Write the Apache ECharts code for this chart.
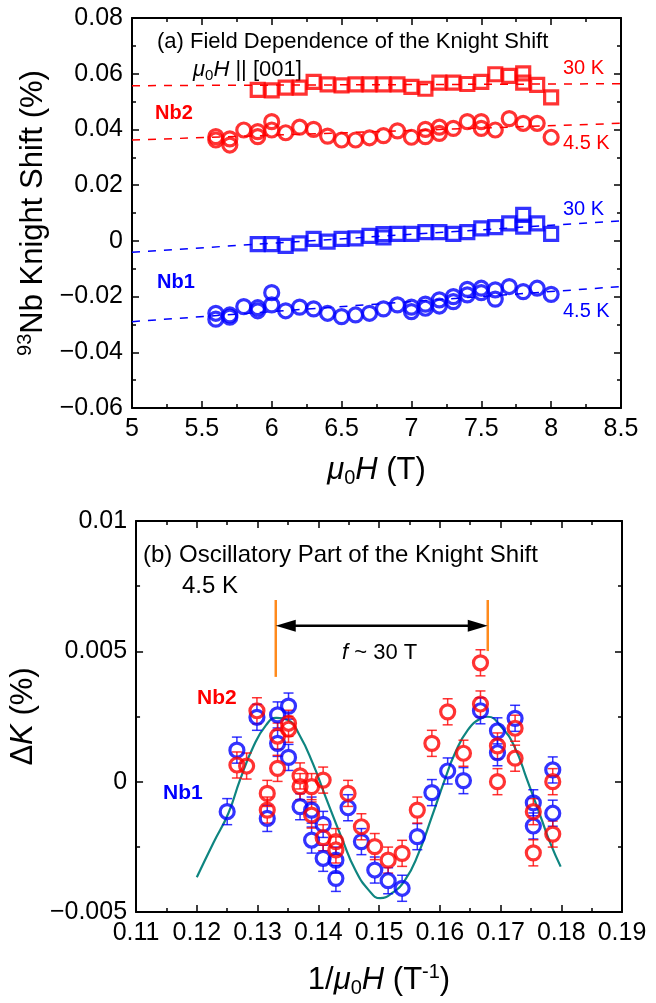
<!DOCTYPE html>
<html>
<head>
<meta charset="utf-8">
<script src="https://cdn.jsdelivr.net/npm/echarts@6/dist/echarts.min.js"></script>
<style>
html, body { margin: 0; padding: 0; background: #fff; }
#chart { width: 656px; height: 1003px; }
</style>
</head>
<body>
<div id="chart"></div>
<script>
var fontFam = '"Liberation Sans", Arial, sans-serif'
var red = '#ff0000'
var blue = '#0000ff'

// (a) 93Nb Knight Shift (%) vs field mu0H (T)
var nb2Sq30K = [[5.9, 0.0542], [6.0, 0.0540], [6.1, 0.0550], [6.2, 0.0550], [6.3, 0.0571], [6.4, 0.0562], [6.5, 0.0558],
  [6.6, 0.0562], [6.7, 0.0562], [6.8, 0.0562], [6.9, 0.0562], [7.0, 0.0553], [7.1, 0.0546], [7.2, 0.0568], [7.3, 0.0568],
  [7.4, 0.0563], [7.5, 0.0571], [7.6, 0.0598], [7.7, 0.0592], [7.8, 0.0601], [7.8, 0.0568], [7.9, 0.0560], [8.0, 0.0515]]
var nb2Circ45K = [[5.6, 0.0374], [5.6, 0.0362], [5.7, 0.0366], [5.7, 0.0344], [5.8, 0.0398], [5.9, 0.0392], [5.9, 0.0374],
  [6.0, 0.0428], [6.0, 0.0398], [6.1, 0.0388], [6.2, 0.0408], [6.3, 0.0400], [6.4, 0.0376], [6.5, 0.0362], [6.6, 0.0362],
  [6.7, 0.0370], [6.8, 0.0378], [6.9, 0.0395], [7.0, 0.0372], [7.1, 0.0400], [7.1, 0.0374], [7.2, 0.0408], [7.2, 0.0386],
  [7.3, 0.0404], [7.4, 0.0428], [7.5, 0.0428], [7.5, 0.0404], [7.6, 0.0398], [7.7, 0.0439], [7.8, 0.0422], [7.9, 0.0422],
  [8.0, 0.0372]]
var nb1Sq30K = [[5.9, -0.0012], [6.0, -0.0012], [6.1, -0.0018], [6.2, -0.0009], [6.3, 0.0007], [6.4, -0.0003], [6.5, 0.0007],
  [6.6, 0.0009], [6.7, 0.0018], [6.8, 0.0024], [6.8, 0.0012], [6.9, 0.0025], [7.0, 0.0025], [7.1, 0.0031], [7.2, 0.0031],
  [7.3, 0.0025], [7.4, 0.0031], [7.5, 0.0045], [7.6, 0.0049], [7.7, 0.0063], [7.8, 0.0093], [7.8, 0.0051], [7.9, 0.0063],
  [8.0, 0.0025]]
var nb1Circ45K = [[5.6, -0.0260], [5.6, -0.0281], [5.7, -0.0266], [5.7, -0.0274], [5.8, -0.0236], [5.9, -0.0240], [5.9, -0.0251],
  [6.0, -0.0186], [6.0, -0.0230], [6.1, -0.0251], [6.2, -0.0238], [6.3, -0.0244], [6.4, -0.0260], [6.5, -0.0272], [6.6, -0.0266],
  [6.7, -0.0260], [6.8, -0.0244], [6.9, -0.0230], [7.0, -0.0238], [7.0, -0.0254], [7.1, -0.0227], [7.1, -0.0242], [7.2, -0.0212],
  [7.2, -0.0234], [7.3, -0.0200], [7.3, -0.0218], [7.4, -0.0174], [7.4, -0.0194], [7.5, -0.0170], [7.5, -0.0186], [7.6, -0.0176],
  [7.6, -0.0209], [7.7, -0.0164], [7.8, -0.0182], [7.9, -0.0170], [8.0, -0.0192]]
// dashed linear fits
var nb2Fit30K = [[5, 0.0557], [8.5, 0.0564]]
var nb2Fit45K = [[5, 0.0362], [8.5, 0.0422]]
var nb1Fit30K = [[5, -0.0041], [8.5, 0.0072]]
var nb1Fit45K = [[5, -0.0290], [8.5, -0.0164]]

// (b) oscillatory part dK (%) vs 1/mu0H
var nb1Osc = [[0.1250, -0.00115], [0.1266, 0.00121], [0.1299, 0.00247], [0.1316, -0.00141], [0.1333, 0.00256], [0.1333, 0.00147],
  [0.1351, 0.00290], [0.1351, 0.00093], [0.1370, -0.00096], [0.1389, -0.00109], [0.1389, -0.00224], [0.1408, -0.00164],
  [0.1408, -0.00294], [0.1429, -0.00301], [0.1429, -0.00371], [0.1449, -0.00100], [0.1471, -0.00230], [0.1493, -0.00339],
  [0.1515, -0.00380], [0.1538, -0.00409], [0.1563, -0.00211], [0.1587, -0.00042], [0.1613, 0.00041], [0.1639, 0.00004],
  [0.1667, 0.00272], [0.1695, 0.00195], [0.1695, 0.00111], [0.1724, 0.00243], [0.1754, -0.00081], [0.1754, -0.00170],
  [0.1786, 0.00045], [0.1786, -0.00121]]
var nb2Osc = [[0.1266, 0.00064], [0.1282, 0.00060], [0.1299, 0.00272], [0.1316, -0.00045], [0.1316, -0.00109], [0.1333, 0.00175],
  [0.1333, 0.00051], [0.1351, 0.00224], [0.1351, 0.00201], [0.1370, 0.00022], [0.1370, -0.00019], [0.1389, -0.00019],
  [0.1389, -0.00128], [0.1408, 0.00006], [0.1408, -0.00215], [0.1429, -0.00230], [0.1429, -0.00262], [0.1449, -0.00045],
  [0.1471, -0.00173], [0.1493, -0.00249], [0.1515, -0.00301], [0.1538, -0.00275], [0.1563, -0.00109], [0.1587, 0.00147],
  [0.1613, 0.00268], [0.1639, 0.00109], [0.1667, 0.00456], [0.1667, 0.00298], [0.1695, 0.00137], [0.1695, 0.00000],
  [0.1724, 0.00205], [0.1724, 0.00090], [0.1754, -0.00115], [0.1754, -0.00273], [0.1786, 0.00000], [0.1786, -0.00201]]
var oscErr = 0.0005
// fitted oscillation
var oscFit = [[0.1200, -0.00367], [0.1227, -0.00236], [0.1252, -0.00121], [0.1271, 0.00006], [0.1293, 0.00134],
  [0.1314, 0.00217], [0.1331, 0.00245], [0.1350, 0.00237], [0.1369, 0.00179], [0.1391, 0.00070], [0.1412, -0.00058],
  [0.1440, -0.00224], [0.1461, -0.00339], [0.1483, -0.00416], [0.1502, -0.00447], [0.1521, -0.00428], [0.1543, -0.00377],
  [0.1565, -0.00275], [0.1587, -0.00134], [0.1608, 0.00006], [0.1625, 0.00109], [0.1646, 0.00198], [0.1668, 0.00243],
  [0.1679, 0.00249], [0.1701, 0.00211], [0.1723, 0.00134], [0.1744, 0.00006], [0.1766, -0.00134], [0.1782, -0.00236],
  [0.1799, -0.00326]]
// period markers: [x, yLow, yHigh] and arrow [x1, x2, y]
var periodLines = [[0.1330, 0.00402, 0.00697], [0.1679, 0.00501, 0.00697]]
var periodArrow = [[0.1330, 0.1679, 0.00598]]

function fmtTick (digits) {
  return function (v) {
    if (Math.abs(v) < 1e-12) return '0'
    var s = parseFloat(Math.abs(v).toFixed(digits)).toString()
    return (v < 0 ? '\u2212' : '') + s
  }
}

var nameRich = {
  n: { fontSize: 31, fontFamily: fontFam, color: '#000', lineHeight: 36 },
  i: { fontSize: 31, fontFamily: fontFam, fontStyle: 'italic', color: '#000', lineHeight: 36 },
  sub: { fontSize: 20, fontFamily: fontFam, color: '#000', lineHeight: 12, verticalAlign: 'bottom' },
  sup: { fontSize: 20, fontFamily: fontFam, color: '#000', lineHeight: 14, verticalAlign: 'top' }
}

function makeAxis (grid, position, min, max, step, showLabel, digits) {
  return {
    type: 'value',
    gridIndex: grid,
    position: position,
    min: min,
    max: max,
    interval: step,
    axisLine: { show: true, onZero: false, lineStyle: { color: '#000', width: 2 } },
    axisTick: { show: true, inside: true, length: 7, lineStyle: { color: '#000', width: 1.5 } },
    minorTick: { show: true, splitNumber: 2, length: 4, lineStyle: { color: '#000', width: 1.5 } },
    splitLine: { show: false },
    axisLabel: { show: showLabel, color: '#000', fontSize: 25, fontFamily: fontFam, margin: 9, formatter: fmtTick(digits) },
    silent: true
  }
}

function withName (axis, name, gap, rotate) {
  axis.name = name
  axis.nameLocation = 'middle'
  axis.nameGap = gap
  if (rotate) axis.nameRotate = rotate
  axis.nameTextStyle = { rich: nameRich }
  return axis
}

function scatter (data, symbol, size, color, xi, yi, z) {
  return {
    type: 'scatter',
    xAxisIndex: xi,
    yAxisIndex: yi,
    data: data,
    symbol: symbol,
    symbolSize: size,
    itemStyle: { color: 'transparent', borderColor: color, borderWidth: 3.2 },
    z: z,
    silent: true
  }
}

function fitLine (data, color) {
  return {
    type: 'line',
    xAxisIndex: 0,
    yAxisIndex: 0,
    data: data,
    showSymbol: false,
    lineStyle: { color: color, width: 1.5, type: [8, 8] },
    z: 2,
    silent: true
  }
}

// error bars drawn outside the circle, Origin style
function errorBars (data, color) {
  return {
    type: 'custom',
    xAxisIndex: 2,
    yAxisIndex: 2,
    data: data.map(function (p) { return [p[0], p[1], oscErr] }),
    encode: { x: 0, y: 1 },
    z: 3,
    silent: true,
    renderItem: function (params, api) {
      var c = api.coord([api.value(0), api.value(1)])
      var hi = api.coord([api.value(0), api.value(1) + api.value(2)])
      var lo = api.coord([api.value(0), api.value(1) - api.value(2)])
      var r = 8
      var hw = 5
      var st = { stroke: color, lineWidth: 1.5, opacity: 0.8 }
      return {
        type: 'group',
        children: [
          { type: 'line', shape: { x1: c[0], y1: hi[1], x2: c[0], y2: c[1] - r }, style: st },
          { type: 'line', shape: { x1: c[0], y1: c[1] + r, x2: c[0], y2: lo[1] }, style: st },
          { type: 'line', shape: { x1: c[0] - hw, y1: hi[1], x2: c[0] + hw, y2: hi[1] }, style: st },
          { type: 'line', shape: { x1: c[0] - hw, y1: lo[1], x2: c[0] + hw, y2: lo[1] }, style: st }
        ]
      }
    }
  }
}

function txt (text, x, y, size, color, rich, weight) {
  var style = {
    text: text,
    fill: color,
    font: (weight || 'normal') + ' ' + size + 'px ' + fontFam,
    textAlign: 'left',
    textVerticalAlign: 'middle'
  }
  if (rich) style.rich = rich
  return { type: 'text', x: x, y: y, silent: true, style: style }
}

var smallRich = {
  n: { fontSize: 22, fontFamily: fontFam, color: '#000', lineHeight: 26 },
  i: { fontSize: 22, fontFamily: fontFam, fontStyle: 'italic', color: '#000', lineHeight: 26 },
  sub: { fontSize: 15, fontFamily: fontFam, color: '#000', lineHeight: 10, verticalAlign: 'bottom' }
}

var myChart = echarts.init(document.getElementById('chart'), null, { renderer: 'canvas' })

var option = {
  animation: false,
  backgroundColor: '#fff',
  grid: [
    { left: 132, top: 18, width: 489, height: 390 },
    { left: 132, top: 521, width: 490, height: 391 }
  ],
  xAxis: [
    withName(makeAxis(0, 'bottom', 5, 8.5, 0.5, true, 2), '{i|μ}{sub|0}{i|H}{n| (T)}', 44),
    makeAxis(0, 'top', 5, 8.5, 0.5, false, 2),
    withName(makeAxis(1, 'bottom', 0.11, 0.19, 0.01, true, 2), '{n|1/}{i|μ}{sub|0}{i|H}{n| (T}{sup|-1}{n|)}', 50),
    makeAxis(1, 'top', 0.11, 0.19, 0.01, false, 2)
  ],
  yAxis: [
    withName(makeAxis(0, 'left', -0.06, 0.08, 0.02, true, 2), '{sup|93}{n|Nb Knight Shift (%)}', 80, 90),
    makeAxis(0, 'right', -0.06, 0.08, 0.02, false, 2),
    withName(makeAxis(1, 'left', -0.005, 0.01, 0.005, true, 4), '{n|Δ}{i|K}{n| (%)}', 94, 90),
    makeAxis(1, 'right', -0.005, 0.01, 0.005, false, 4)
  ],
  graphic: [
    txt('(a) Field Dependence of the Knight Shift', 157, 42, 22, '#000'),
    txt('{i|μ}{sub|0}{i|H}{n| || [001]}', 193, 70, 22, '#000', smallRich),
    txt('Nb2', 155, 113, 20, red, null, 'bold'),
    txt('30 K', 563, 68, 20, red),
    txt('4.5 K', 563, 143, 20, red),
    txt('Nb1', 157, 282, 20, blue, null, 'bold'),
    txt('30 K', 563, 209, 20, blue),
    txt('4.5 K', 563, 311, 20, blue),
    txt('(b) Oscillatory Part of the Knight Shift', 143, 555, 24, '#000'),
    txt('4.5 K', 182, 586, 24, '#000'),
    txt('{i|f}{n| ~ 30 T}', 342, 653, 22, '#000', smallRich),
    txt('Nb2', 197, 698, 21, red, null, 'bold'),
    txt('Nb1', 163, 793, 21, blue, null, 'bold')
  ],
  series: [
    fitLine(nb2Fit30K, red),
    fitLine(nb2Fit45K, red),
    fitLine(nb1Fit30K, blue),
    fitLine(nb1Fit45K, blue),
    scatter(nb1Sq30K, 'rect', 13, blue, 0, 0, 3),
    scatter(nb1Circ45K, 'circle', 14, blue, 0, 0, 3),
    scatter(nb2Sq30K, 'rect', 13, red, 0, 0, 4),
    scatter(nb2Circ45K, 'circle', 14, red, 0, 0, 4),
    {
      type: 'line',
      xAxisIndex: 2,
      yAxisIndex: 2,
      data: oscFit,
      smooth: true,
      showSymbol: false,
      lineStyle: { color: '#0e8580', width: 2.2 },
      z: 2,
      silent: true
    },
    {
      type: 'custom',
      xAxisIndex: 2,
      yAxisIndex: 2,
      data: periodLines,
      encode: { x: 0, y: [1, 2] },
      z: 2,
      silent: true,
      renderItem: function (params, api) {
        var a = api.coord([api.value(0), api.value(1)])
        var b = api.coord([api.value(0), api.value(2)])
        return { type: 'line', shape: { x1: a[0], y1: a[1], x2: b[0], y2: b[1] }, style: { stroke: '#ff8a1c', lineWidth: 2.5 } }
      }
    },
    {
      type: 'custom',
      xAxisIndex: 2,
      yAxisIndex: 2,
      data: periodArrow,
      encode: { x: [0, 1], y: 2 },
      z: 2,
      silent: true,
      renderItem: function (params, api) {
        var a = api.coord([api.value(0), api.value(2)])
        var b = api.coord([api.value(1), api.value(2)])
        var L = 20
        var h = 6
        return {
          type: 'group',
          children: [
            { type: 'line', shape: { x1: a[0] + L - 2, y1: a[1], x2: b[0] - L + 2, y2: b[1] }, style: { stroke: '#000', lineWidth: 2.5 } },
            { type: 'polygon', shape: { points: [[a[0], a[1]], [a[0] + L, a[1] - h], [a[0] + L, a[1] + h]] }, style: { fill: '#000' } },
            { type: 'polygon', shape: { points: [[b[0], b[1]], [b[0] - L, b[1] - h], [b[0] - L, b[1] + h]] }, style: { fill: '#000' } }
          ]
        }
      }
    },
    errorBars(nb1Osc, blue),
    errorBars(nb2Osc, red),
    scatter(nb1Osc, 'circle', 14, blue, 2, 2, 4),
    scatter(nb2Osc, 'circle', 14, red, 2, 2, 5)
  ]
}

myChart.setOption(option)
</script>
</body>
</html>
